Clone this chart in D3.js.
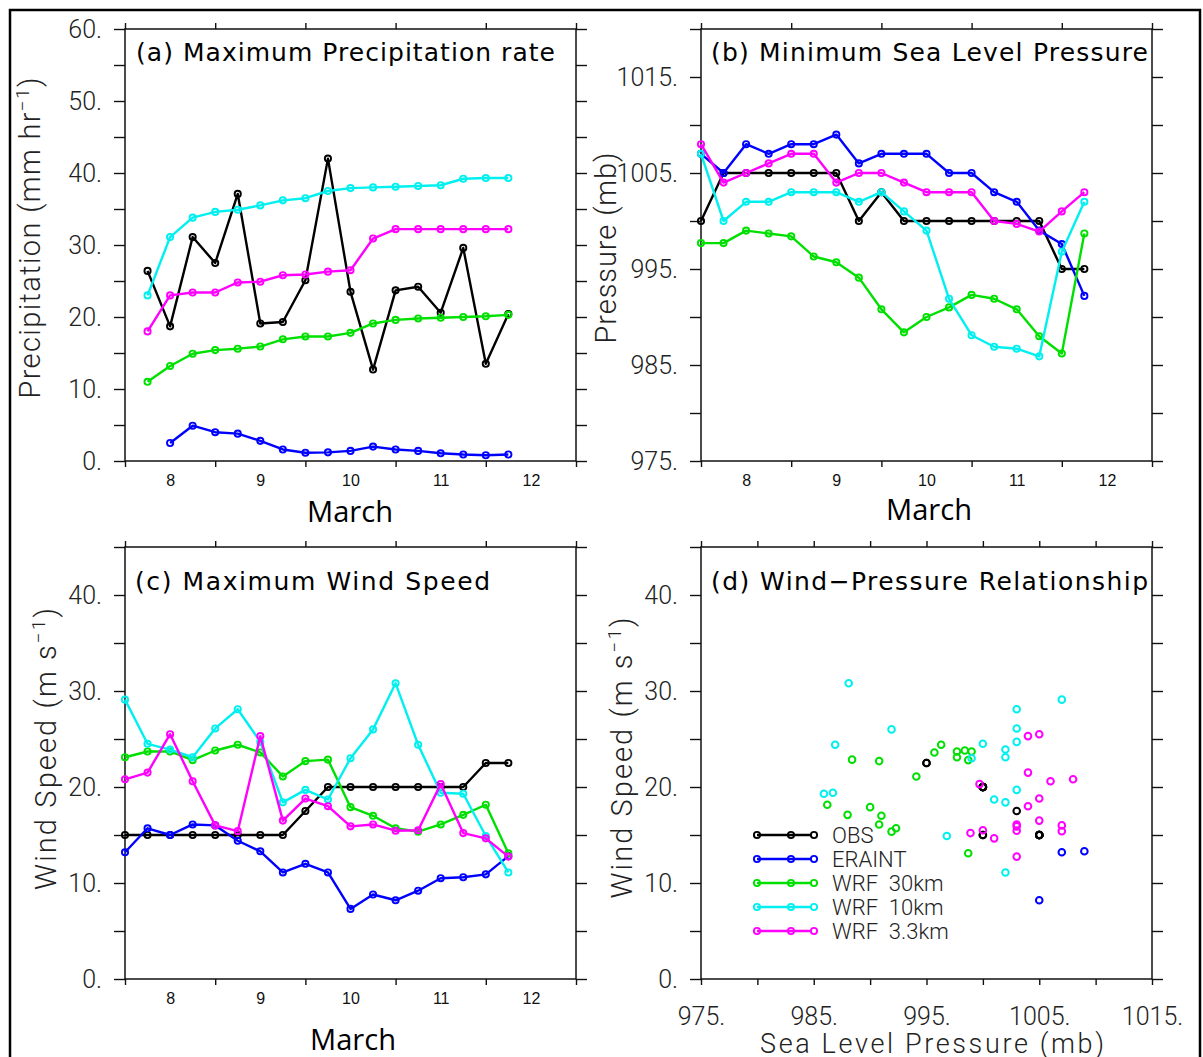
<!DOCTYPE html>
<html><head><meta charset="utf-8">
<script src="https://cdn.jsdelivr.net/npm/d3@7/dist/d3.min.js"></script>
<style>
html,body{margin:0;padding:0;background:#fff;}
svg{display:block;}
</style></head><body>
<svg id="chart" width="1203" height="1057"></svg>
<script>
// ---------------- data ----------------
const seriesNames  = ["OBS", "ERAINT", "WRF  30km", "WRF  10km", "WRF  3.3km"];
const seriesColors = ["#000000", "#0000ff", "#00e000", "#00f0f0", "#ff00ff"];

// time axis (days of March, 6-hourly)
const timeFull = [7.5, 7.75, 8, 8.25, 8.5, 8.75, 9, 9.25, 9.5, 9.75, 10, 10.25, 10.5, 10.75, 11, 11.25, 11.5, 11.75];
const dayLabels = [8, 9, 10, 11, 12];
const dayTicks  = [7.5, 8.5, 9.5, 10.5, 11.5, 12.5];

// (a) maximum precipitation rate (mm/hr)
const precipOBS    = [null, 26.4, 18.7, 31.1, 27.5, 37.1, 19.1, 19.3, 25.1, 42.0, 23.5, 12.7, 23.7, 24.2, 20.6, 29.6, 13.5, 20.4];
const precipERAINT = [null, null, 2.5, 4.9, 4.0, 3.8, 2.8, 1.6, 1.15, 1.2, 1.4, 2.0, 1.6, 1.4, 1.07, 0.9, 0.8, 0.9];
const precipWRF30  = [null, 11.0, 13.2, 14.9, 15.4, 15.6, 15.9, 16.9, 17.3, 17.3, 17.8, 19.1, 19.6, 19.8, 19.9, 20.0, 20.1, 20.3];
const precipWRF10  = [null, 23.0, 31.1, 33.8, 34.6, 34.9, 35.5, 36.2, 36.5, 37.5, 37.9, 38.0, 38.1, 38.2, 38.3, 39.2, 39.3, 39.3];
const precipWRF3   = [null, 18.0, 23.0, 23.4, 23.4, 24.8, 24.9, 25.8, 25.9, 26.3, 26.5, 30.9, 32.2, 32.2, 32.2, 32.2, 32.2, 32.2];

// (b) minimum sea level pressure (mb)
const slpOBS    = [1000, 1005, 1005, 1005, 1005, 1005, 1005, 1000, 1003, 1000, 1000, 1000, 1000, 1000, 1000, 1000, 995, 995];
const slpERAINT = [1007, 1005, 1008, 1007, 1008, 1008, 1009, 1006, 1007, 1007, 1007, 1005, 1005, 1003, 1002, 999, 997.6, 992.2];
const slpWRF30  = [997.7, 997.7, 999.0, 998.7, 998.4, 996.3, 995.7, 994.1, 990.8, 988.4, 990.0, 991.0, 992.3, 991.9, 990.8, 988.0, 986.2, 998.7];
const slpWRF10  = [1007, 1000, 1002, 1002, 1003, 1003, 1003, 1002, 1003, 1001, 999.0, 991.9, 988.1, 986.9, 986.7, 985.9, 996.8, 1002];
const slpWRF3   = [1008, 1004, 1005, 1006, 1007, 1007, 1004, 1005, 1005, 1004, 1003, 1003, 1003, 1000, 999.7, 998.9, 1001, 1003];

// (c) maximum wind speed (m/s)
const windOBS    = [15, 15, 15, 15, 15, 15, 15, 15, 17.5, 20, 20, 20, 20, 20, 20, 20, 22.5, 22.5];
const windERAINT = [13.2, 15.7, 15.0, 16.1, 16.0, 14.4, 13.3, 11.1, 12.0, 11.1, 7.3, 8.8, 8.2, 9.2, 10.5, 10.6, 10.9, 12.8];
const windWRF30  = [23.1, 23.7, 23.7, 22.8, 23.8, 24.4, 23.6, 21.1, 22.7, 22.85, 17.9, 17.0, 15.7, 15.35, 16.1, 17.1, 18.15, 13.1];
const windWRF10  = [29.1, 24.5, 23.9, 23.1, 26.1, 28.1, 24.7, 18.4, 19.7, 18.7, 23.0, 26.0, 30.8, 24.4, 19.4, 19.3, 14.9, 11.1];
const windWRF3   = [20.8, 21.5, 25.5, 20.6, 16.0, 15.4, 25.3, 16.5, 18.8, 18.0, 15.9, 16.1, 15.45, 15.5, 20.3, 15.2, 14.65, 12.75];

// (d) which time indices appear in the scatter (ERAINT shows only a few)
const scatterIdxERAINT = [0, 6, 12];

// axis ticks / labels
const precipTicks  = [0, 5, 10, 15, 20, 25, 30, 35, 40, 45, 50, 55, 60];
const precipLabels = [0, 10, 20, 30, 40, 50, 60];
const slpTicks     = [975, 980, 985, 990, 995, 1000, 1005, 1010, 1015, 1020];
const slpLabels    = [975, 985, 995, 1005, 1015];
const windTicks    = [0, 5, 10, 15, 20, 25, 30, 35, 40, 45];
const windLabels   = [0, 10, 20, 30, 40];
const slpXTicks    = [975, 980, 985, 990, 995, 1000, 1005, 1010, 1015];

const precipSeries = [precipOBS, precipERAINT, precipWRF30, precipWRF10, precipWRF3];
const slpSeries    = [slpOBS, slpERAINT, slpWRF30, slpWRF10, slpWRF3];
const windSeries   = [windOBS, windERAINT, windWRF30, windWRF10, windWRF3];

// ---------------- drawing ----------------
const svg = d3.select("#chart");
const TICKFONT = "Roboto, 'Liberation Sans', sans-serif";
const TITLEFONT = "'DejaVu Sans', sans-serif";

svg.append("rect").attr("x", 10).attr("y", 10).attr("width", 1190).attr("height", 1100)
  .attr("fill", "none").attr("stroke", "#000").attr("stroke-width", 2.5);

const box = {
  a: {x0: 125, x1: 576, y0: 29,  y1: 461},
  b: {x0: 701, x1: 1152, y0: 29, y1: 461},
  c: {x0: 125, x1: 576, y0: 547, y1: 979},
  d: {x0: 701, x1: 1152, y0: 547, y1: 979}
};

function styleAxis(sel) {
  sel.select(".domain").remove();
  sel.selectAll(".tick line").attr("stroke", "#111").attr("stroke-width", 1.4);
}

function frame(b, xs, ys, xTicks, yTicks, yLabels) {
  const g = svg.append("g");
  const fmtY = v => yLabels.includes(v) ? v + "." : "";
  const gl = g.append("g").attr("transform", `translate(${b.x0},0)`)
    .call(d3.axisLeft(ys).tickValues(yTicks).tickSize(11).tickPadding(12).tickFormat(fmtY));
  styleAxis(gl);
  gl.selectAll("text").attr("font-family", TICKFONT).attr("font-weight", 300)
    .attr("font-size", 25).attr("fill", "#222");
  const gr = g.append("g").attr("transform", `translate(${b.x1},0)`)
    .call(d3.axisRight(ys).tickValues(yTicks).tickSize(11).tickFormat(""));
  styleAxis(gr);
  const gt = g.append("g").attr("transform", `translate(0,${b.y0})`)
    .call(d3.axisTop(xs).tickValues(xTicks).tickSize(6).tickFormat(""));
  styleAxis(gt);
  const gb = g.append("g").attr("transform", `translate(0,${b.y1})`)
    .call(d3.axisBottom(xs).tickValues(xTicks).tickSize(6).tickFormat(""));
  styleAxis(gb);
  g.append("rect").attr("x", b.x0).attr("y", b.y0).attr("width", b.x1 - b.x0).attr("height", b.y1 - b.y0)
    .attr("fill", "none").attr("stroke", "#111").attr("stroke-width", 1.5);
  return g;
}

function dayAxis(b, xs) {
  const g = svg.append("g").attr("transform", `translate(0,${b.y1})`)
    .call(d3.axisBottom(xs).tickValues(dayLabels).tickSize(0).tickPadding(14).tickFormat(d => d));
  g.select(".domain").remove();
  g.selectAll("text").attr("font-family", "'Liberation Sans', Arial, sans-serif")
    .attr("font-size", 16).attr("fill", "#111");
}

function title(x, y, txt, len) {
  svg.append("text").attr("x", x).attr("y", y).text(txt)
    .attr("font-family", TITLEFONT).attr("font-size", 25).attr("fill", "#000")
    .attr("textLength", len).attr("lengthAdjust", "spacing");
}

function march(cx, y) {
  svg.append("text").attr("x", cx).attr("y", y).attr("text-anchor", "middle").text("March")
    .attr("font-family", "'Open Sans', sans-serif").attr("font-size", 30).attr("fill", "#000")
    .attr("textLength", 86).attr("lengthAdjust", "spacingAndGlyphs");
}

function yTitle(x, cy, parts, len) {
  const t = svg.append("text").attr("transform", `translate(${x},${cy}) rotate(-90)`)
    .attr("text-anchor", "middle").attr("font-family", TICKFONT).attr("font-weight", 300)
    .attr("font-size", 29).attr("fill", "#222").attr("textLength", len).attr("lengthAdjust", "spacing");
  parts.forEach(p => {
    const s = t.append("tspan").text(p.t);
    if (p.sup) s.attr("baseline-shift", "super").attr("font-size", 19);
  });
}

function drawLines(b, xs, ys, seriesList) {
  const g = svg.append("g");
  seriesList.forEach((vals, si) => {
    const pts = timeFull.map((t, i) => [t, vals[i]]).filter(d => d[1] != null);
    g.append("path").datum(pts)
      .attr("d", d3.line().x(d => xs(d[0])).y(d => ys(d[1])))
      .attr("fill", "none").attr("stroke", seriesColors[si]).attr("stroke-width", 2.4)
      .attr("stroke-linejoin", "round");
    g.selectAll(null).data(pts).enter().append("circle")
      .attr("cx", d => xs(d[0])).attr("cy", d => ys(d[1])).attr("r", 3.1)
      .attr("fill", "none").attr("stroke", seriesColors[si]).attr("stroke-width", 1.9);
  });
}

// ---- panel (a)
{
  const b = box.a;
  const xs = d3.scaleLinear().domain([7.5, 12.5]).range([b.x0, b.x1]);
  const ys = d3.scaleLinear().domain([0, 60]).range([b.y1, b.y0]);
  frame(b, xs, ys, dayTicks, precipTicks, precipLabels);
  dayAxis(b, xs);
  drawLines(b, xs, ys, precipSeries);
  title(136, 61, "(a) Maximum Precipitation rate", 419);
  march(350, 522);
  yTitle(40, 238, [{t: "Precipitation (mm hr"}, {t: "\u22121", sup: true}, {t: ")"}], 321);
}
// ---- panel (b)
{
  const b = box.b;
  const xs = d3.scaleLinear().domain([7.5, 12.5]).range([b.x0, b.x1]);
  const ys = d3.scaleLinear().domain([975, 1020]).range([b.y1, b.y0]);
  frame(b, xs, ys, dayTicks, slpTicks, slpLabels);
  dayAxis(b, xs);
  drawLines(b, xs, ys, slpSeries);
  title(711, 61, "(b) Minimum Sea Level Pressure", 437);
  march(929, 520);
  yTitle(616, 248, [{t: "Pressure (mb)"}], 191);
}
// ---- panel (c)
{
  const b = box.c;
  const xs = d3.scaleLinear().domain([7.5, 12.5]).range([b.x0, b.x1]);
  const ys = d3.scaleLinear().domain([0, 45]).range([b.y1, b.y0]);
  frame(b, xs, ys, dayTicks, windTicks, windLabels);
  dayAxis(b, xs);
  drawLines(b, xs, ys, windSeries);
  title(135, 590, "(c) Maximum Wind Speed", 355);
  march(353, 1050);
  yTitle(56, 749, [{t: "Wind Speed (m s"}, {t: "\u22121", sup: true}, {t: ")"}], 282);
}
// ---- panel (d)
{
  const b = box.d;
  const xs = d3.scaleLinear().domain([975, 1015]).range([b.x0, b.x1]);
  const ys = d3.scaleLinear().domain([0, 45]).range([b.y1, b.y0]);
  frame(b, xs, ys, slpXTicks, windTicks, windLabels);
  const gx = svg.append("g").attr("transform", `translate(0,${b.y1})`)
    .call(d3.axisBottom(xs).tickValues(slpLabels).tickSize(6).tickPadding(22).tickFormat(d => d + "."));
  gx.select(".domain").remove();
  gx.selectAll(".tick line").remove();
  gx.selectAll("text").attr("font-family", TICKFONT).attr("font-weight", 300)
    .attr("font-size", 25).attr("fill", "#222");
  svg.append("text").attr("x", 932).attr("y", 1053).attr("text-anchor", "middle")
    .text("Sea Level Pressure (mb)").attr("font-family", TICKFONT).attr("font-weight", 300)
    .attr("font-size", 27).attr("fill", "#222").attr("textLength", 344).attr("lengthAdjust", "spacing");
  title(711, 590, "(d) Wind\u2212Pressure Relationship", 437);
  yTitle(632, 758, [{t: "Wind Speed (m s"}, {t: "\u22121", sup: true}, {t: ")"}], 281);

  const sg = svg.append("g");
  slpSeries.forEach((pv, si) => {
    const idx = si === 1 ? scatterIdxERAINT : pv.map((_, i) => i);
    const pts = idx.map(i => [pv[i], windSeries[si][i]]);
    sg.selectAll(null).data(pts).enter().append("circle")
      .attr("cx", d => xs(d[0])).attr("cy", d => ys(d[1])).attr("r", 3.3)
      .attr("fill", "none").attr("stroke", seriesColors[si]).attr("stroke-width", 2);
  });

  const lg = svg.append("g");
  const legY0 = 835, legDy = 24, lx0 = 757, lx1 = 791, lx2 = 814;
  seriesNames.forEach((n, i) => {
    const y = legY0 + i * legDy;
    lg.append("line").attr("x1", lx0).attr("x2", lx2).attr("y1", y).attr("y2", y)
      .attr("stroke", seriesColors[i]).attr("stroke-width", 2.4);
    [lx0, lx1, lx2].forEach(x => lg.append("circle").attr("cx", x).attr("cy", y).attr("r", 3.1)
      .attr("fill", x === lx2 ? "#fff" : "none").attr("stroke", seriesColors[i]).attr("stroke-width", 1.9));
    lg.append("text").attr("x", 832).attr("y", y + 8).text(n)
      .style("white-space", "pre")
      .attr("font-family", TICKFONT).attr("font-weight", 300).attr("font-size", 22).attr("fill", "#222");
  });
}
</script>
</body></html>
